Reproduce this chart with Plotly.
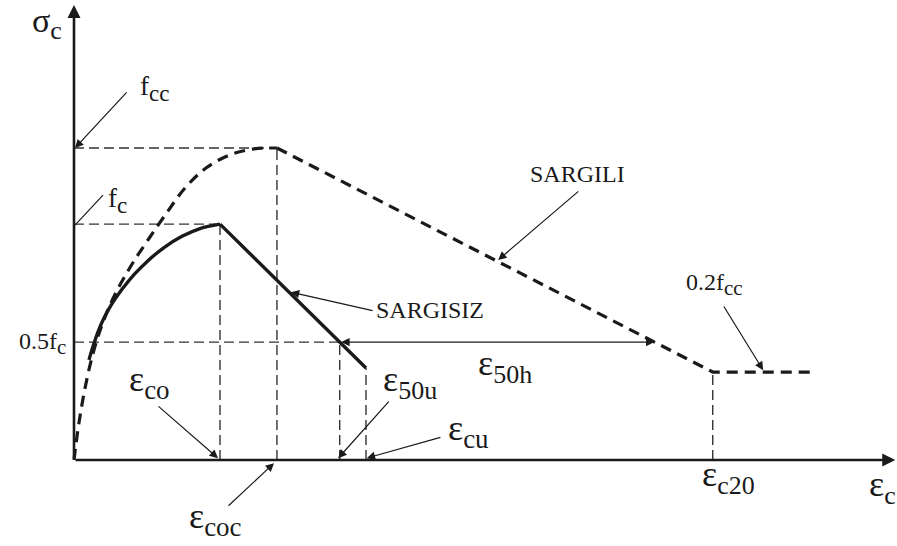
import plotly.graph_objects as go

# Characteristic strains (per mille)
eps_co = 2.0
eps_coc = 2.78
eps_cu = 4.0
eps_c20 = 8.75
eps_plateau_end = 10.15

# Characteristic stresses (fraction of f_cc)
f_cc = 1.0
f_c = 0.756
f_unc_end = 0.295
f_res = 0.282

# Confined concrete (SARGILI), ascending branch
conf_eps = [0.0, 0.027, 0.068, 0.123, 0.192, 0.274, 0.370, 0.493, 0.644, 0.822, 1.027,
            1.260, 1.521, 1.808, 2.137, 2.466, 2.78]
conf_sig = [0.0, 0.051, 0.119, 0.196, 0.276, 0.353, 0.424, 0.497, 0.567, 0.638, 0.710,
            0.789, 0.872, 0.936, 0.978, 0.997, 1.0]

# Unconfined concrete (SARGISIZ), ascending branch
unc_eps = [0.205, 0.260, 0.329, 0.411, 0.521, 0.658, 0.822, 1.014, 1.233, 1.479, 1.726, 2.0]
unc_sig = [0.321, 0.364, 0.411, 0.455, 0.501, 0.547, 0.594, 0.639, 0.681, 0.717, 0.742, 0.756]

# Strain at half strength on each softening branch
half_fc = 0.5 * f_c
eps_50u = eps_co + (f_c - half_fc) / (f_c - f_unc_end) * (eps_cu - eps_co)
eps_50h_end = eps_coc + (f_cc - half_fc) / (f_cc - f_res) * (eps_c20 - eps_coc)

# Drawing area spans the whole page; the origin sits inside it
X_RANGE = [-1.0137, 11.274]
Y_RANGE = [-0.2756, 1.4744]
INK = "#1a1a1a"
SERIF = "Liberation Serif"

fig = go.Figure()

# Confined curve: ascending (smoothed) and softening + residual plateau
fig.add_trace(go.Scatter(x=conf_eps, y=conf_sig, mode="lines",
                         line=dict(color=INK, width=3.2, dash="11px,7px", shape="spline", smoothing=1.0)))
fig.add_trace(go.Scatter(x=[eps_coc, eps_c20, eps_plateau_end], y=[f_cc, f_res, f_res], mode="lines",
                         line=dict(color=INK, width=3.2, dash="11px,7px")))

# Unconfined curve: ascending (smoothed) and linear softening
fig.add_trace(go.Scatter(x=unc_eps, y=unc_sig, mode="lines",
                         line=dict(color=INK, width=3.4, shape="spline", smoothing=1.0)))
fig.add_trace(go.Scatter(x=[eps_co, eps_cu], y=[f_c, f_unc_end], mode="lines",
                         line=dict(color=INK, width=3.4)))

# Thin dashed construction lines
ref_dash = dict(color="#333333", width=1.4, dash="10px,5px")
shapes = []
for y0, x1 in [(f_cc, eps_coc), (f_c, eps_co), (half_fc, eps_50u)]:
    shapes.append(dict(type="line", xref="x", yref="y", x0=0, x1=x1, y0=y0, y1=y0, line=ref_dash, layer="below"))
for x0, y1 in [(eps_co, f_c), (eps_coc, f_cc), (eps_50u, half_fc), (eps_cu, f_unc_end), (eps_c20, f_res)]:
    shapes.append(dict(type="line", xref="x", yref="y", x0=x0, x1=x0, y0=0, y1=y1, line=ref_dash, layer="below"))
# leader line for f_c (no arrow head)
shapes.append(dict(type="line", xref="x", yref="y", x0=0.397, y0=0.849, x1=0.014, y1=0.753,
                   line=dict(color=INK, width=1.2)))

annotations = []


def arrow(x_tip, y_tip, x_tail, y_tail, width=1.2, size=1.4, both=False):
    a = dict(x=x_tip, y=y_tip, ax=x_tail, ay=y_tail, xref="x", yref="y", axref="x", ayref="y",
             text="", showarrow=True, arrowhead=2, arrowsize=size, arrowwidth=width, arrowcolor=INK,
             standoff=0, startstandoff=0)
    if both:
        a.update(arrowside="end+start", startarrowhead=2, startarrowsize=size)
    annotations.append(a)


def label(x, y, main, sub=None, size=26, sub_size=None, xanchor="center"):
    txt = main
    if sub:
        txt += f'<sub><span style="font-size:{sub_size}px">{sub}</span></sub>'
    annotations.append(dict(x=x, y=y, xref="x", yref="y", text=txt, showarrow=False,
                            xanchor=xanchor, yanchor="middle", borderpad=0,
                            font=dict(family=SERIF, size=size, color=INK)))


# Coordinate axes with arrow heads
arrow(0, 1.458, 0, 0, width=2.6, size=1.0)
arrow(11.25, 0, 0, 0, width=2.6, size=1.0)

# Axis titles
label(-0.37, 1.40, "σ", "c", size=34, sub_size=26)
label(11.07, -0.087, "ε", "c", size=36, sub_size=26)

# Stress markers
label(1.10, 1.19, "f", "cc", size=27, sub_size=23)
arrow(0.014, 1.0, 0.74, 1.183)
label(0.60, 0.833, "f", "c", size=27, sub_size=23)
label(-0.096, 0.375, "0.5f", "c", size=24, sub_size=21, xanchor="right")

# Strain markers
label(1.04, 0.25, "ε", "co", size=36, sub_size=27)
arrow(1.973, 0.006, 1.137, 0.176)
label(1.945, -0.19, "ε", "coc", size=36, sub_size=27)
arrow(2.74, -0.01, 2.096, -0.151)
label(4.6, 0.25, "ε", "50u", size=36, sub_size=26)
arrow(3.62, 0.006, 4.33, 0.192)
label(5.41, 0.093, "ε", "cu", size=36, sub_size=27)
arrow(4.01, 0.006, 5.04, 0.074)
label(5.9, 0.30, "ε", "50h", size=36, sub_size=26)
arrow(eps_50h_end, half_fc, eps_50u, half_fc, both=True)
label(8.96, -0.055, "ε", "c20", size=36, sub_size=26)

# Curve names
label(4.88, 0.48, "SARGISIZ", size=24)
arrow(2.97, 0.538, 4.11, 0.478)
label(6.9, 0.917, "SARGILI", size=24)
arrow(5.81, 0.641, 6.93, 0.865)
label(8.78, 0.564, "0.2f", "cc", size=24, sub_size=21)
arrow(9.44, 0.288, 8.89, 0.497)

fig.update_layout(
    width=897, height=546,
    margin=dict(l=0, r=0, t=0, b=0),
    paper_bgcolor="white", plot_bgcolor="white",
    showlegend=False,
    xaxis=dict(range=X_RANGE, visible=False, fixedrange=True),
    yaxis=dict(range=Y_RANGE, visible=False, fixedrange=True),
    shapes=shapes,
    annotations=annotations,
)

fig.write_html("out.html")
